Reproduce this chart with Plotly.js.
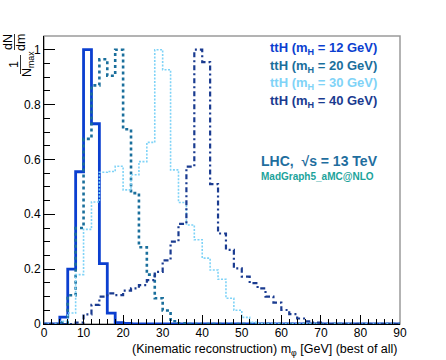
<!DOCTYPE html>
<html>
<head>
<meta charset="utf-8">
<script src="https://cdn.plot.ly/plotly-3.0.1.min.js"></script>
<style>
  html, body { margin: 0; padding: 0; background: #fff; }
  #plot { width: 446px; height: 360px; }
</style>
</head>
<body>
<div id="plot"></div>
<script>
// lower edges of the 2 GeV bins, 0..88
var binLow = [0, 2, 4, 6, 8, 10, 12, 14, 16, 18, 20, 22, 24, 26, 28, 30, 32, 34, 36, 38,
              40, 42, 44, 46, 48, 50, 52, 54, 56, 58, 60, 62, 64, 66, 68, 70, 72, 74, 76, 78,
              80, 82, 84, 86, 88];
var binHigh = 90;

// normalised to max bin = 1
var m12 = [0, 0, 0.025, 0.2, 0.555, 1.0, 0.73, 0.22, 0.04, 0.005, 0.002, 0, 0, 0, 0, 0, 0, 0, 0, 0,
           0, 0, 0, 0, 0, 0, 0, 0, 0, 0, 0, 0, 0, 0, 0, 0, 0, 0, 0, 0,
           0, 0, 0, 0, 0];
var m20 = [0, 0, 0.005, 0.105, 0.35, 0.675, 0.87, 0.965, 0.905, 1.0, 0.71, 0.477, 0.28, 0.18, 0.094, 0.049, 0.01, 0.003, 0, 0,
           0, 0, 0, 0, 0, 0, 0, 0, 0, 0, 0, 0, 0, 0, 0, 0, 0, 0, 0, 0,
           0, 0, 0, 0, 0];
var m30 = [0, 0, 0.01, 0.04, 0.18, 0.345, 0.445, 0.553, 0.556, 0.575, 0.489, 0.544, 0.592, 0.662, 1.0, 0.927, 0.562, 0.443, 0.361, 0.307,
           0.24, 0.197, 0.163, 0.094, 0.05, 0.024, 0.006, 0.002, 0, 0, 0, 0, 0, 0, 0, 0, 0, 0, 0, 0,
           0, 0, 0, 0, 0];
var m40 = [0, 0, 0, 0, 0.005, 0.035, 0.07, 0.1, 0.112, 0.105, 0.122, 0.13, 0.142, 0.16, 0.19, 0.232, 0.3, 0.365, 0.574, 1.0,
           0.955, 0.51, 0.33, 0.27, 0.203, 0.173, 0.149, 0.13, 0.1, 0.078, 0.051, 0.036, 0.02, 0.01, 0.005, 0, 0, 0, 0, 0,
           0, 0, 0, 0, 0];

var labels = ["12", "20", "30", "40"];
var series = [m12, m20, m30, m40];
var colors = ["#0b3fd0", "#1a6f9c", "#7fd3f7", "#1a3b90"];
var dashes = ["solid", "3px,3px", "2px,1.5px", "2px,3px,5px,3px"];
var widths = [2.8, 2.6, 1.6, 2.2];

// step histogram: value held until the next bin edge
function stepTrace(vals, i) {
  return {
    x: binLow.concat([binHigh]),
    y: vals.concat([vals[vals.length - 1]]),
    type: "scatter",
    mode: "lines",
    line: { shape: "hv", color: colors[i], width: widths[i], dash: dashes[i] },
    showlegend: false,
    hoverinfo: "skip"
  };
}

var data = series.map(stepTrace);

// pixel -> paper helpers (plot box 44..400 x 36..324)
function px(x) { return (x - 44) / 356; }
function py(y) { return (324 - y) / 288; }

var annotations = [];
var legendY = [49, 66.5, 84, 101.5];
labels.forEach(function (m, i) {
  annotations.push({
    xref: "paper", yref: "paper", x: px(268), y: py(legendY[i]),
    xanchor: "left", yanchor: "middle", showarrow: false,
    text: "<b>ttH (m<sub>H</sub> = " + m + " GeV)</b>",
    font: { family: "Liberation Sans, Arial", size: 13, color: colors[i] }
  });
});

annotations.push({
  xref: "paper", yref: "paper", x: px(259), y: py(161),
  xanchor: "left", yanchor: "middle", showarrow: false,
  text: "<b>LHC,  √s = 13 TeV</b>",
  font: { family: "Liberation Sans, Arial", size: 14, color: "#1f6e9e" }
});
annotations.push({
  xref: "paper", yref: "paper", x: px(259), y: py(176),
  xanchor: "left", yanchor: "middle", showarrow: false,
  text: "<b>MadGraph5_aMC@NLO</b>",
  font: { family: "Liberation Sans, Arial", size: 10, color: "#1ba39b" }
});

// x title, right aligned like ROOT
annotations.push({
  xref: "paper", yref: "paper", x: 1, y: py(350),
  xanchor: "right", yanchor: "middle", showarrow: false,
  text: "(Kinematic reconstruction) m<sub>φ</sub> [GeV] (best of all)",
  font: { family: "Liberation Sans, Arial", size: 12.5, color: "#000" }
});

// y title as two rotated fractions: dN/dm and 1/N_max
var yt = { family: "Liberation Sans, Arial", size: 12.5, color: "#000" };
annotations.push({ xref: "paper", yref: "paper", x: px(8), y: py(42), xanchor: "center", yanchor: "middle",
  showarrow: false, textangle: -90, text: "dN", font: yt });
annotations.push({ xref: "paper", yref: "paper", x: px(21), y: py(42), xanchor: "center", yanchor: "middle",
  showarrow: false, textangle: -90, text: "dm", font: yt });
annotations.push({ xref: "paper", yref: "paper", x: px(14), y: py(65), xanchor: "center", yanchor: "middle",
  showarrow: false, textangle: -90, text: "1", font: yt });
annotations.push({ xref: "paper", yref: "paper", x: px(28), y: py(64), xanchor: "center", yanchor: "middle",
  showarrow: false, textangle: -90, text: "N<sub>max</sub>", font: yt });

var shapes = [
  // frame
  { type: "rect", xref: "paper", yref: "paper", x0: 0, x1: 1, y0: 0, y1: 1,
    line: { color: "#9a9a9a", width: 1.5 }, layer: "below" },
  // fraction bars
  { type: "line", xref: "paper", yref: "paper", x0: px(14.5), x1: px(14.5), y0: py(34), y1: py(50),
    line: { color: "#000", width: 0.8 } },
  { type: "line", xref: "paper", yref: "paper", x0: px(20.5), x1: px(20.5), y0: py(55), y1: py(74),
    line: { color: "#000", width: 0.8 } }
];

var layout = {
  width: 446, height: 360,
  margin: { l: 44, r: 46, t: 36, b: 36 },
  paper_bgcolor: "#fff", plot_bgcolor: "#fff",
  font: { family: "Liberation Sans, Arial", size: 12, color: "#000" },
  xaxis: {
    range: [0, 90], dtick: 10, tick0: 0,
    ticks: "inside", ticklen: 9, tickcolor: "#000", tickwidth: 1,
    minor: { dtick: 2, ticks: "inside", ticklen: 5, tickcolor: "#000" },
    showline: true, linecolor: "#000", linewidth: 1,
    showgrid: false, zeroline: false, fixedrange: true,
    tickfont: { size: 12 }, ticklabelstandoff: -2
  },
  yaxis: {
    range: [0, 1.05], dtick: 0.2, tick0: 0,
    ticks: "inside", ticklen: 11, tickcolor: "#000", tickwidth: 1,
    minor: { dtick: 0.05, ticks: "inside", ticklen: 6, tickcolor: "#000" },
    showline: true, linecolor: "#000", linewidth: 1,
    showgrid: false, zeroline: false, fixedrange: true,
    tickfont: { size: 12 }
  },
  annotations: annotations,
  shapes: shapes
};

Plotly.newPlot("plot", data, layout, { staticPlot: true, displayModeBar: false });
</script>
</body>
</html>
